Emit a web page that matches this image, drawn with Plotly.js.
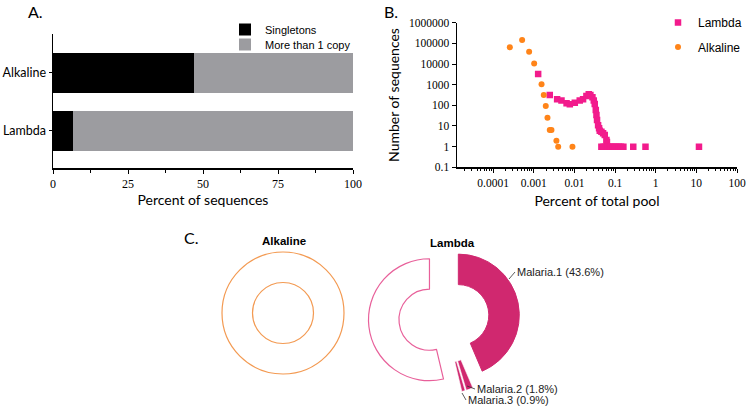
<!DOCTYPE html>
<html><head><meta charset="utf-8">
<script src="https://cdn.plot.ly/plotly-3.0.1.min.js"></script>
<style>body{margin:0;background:#fff;} #chart{width:748px;height:406px;}</style>
</head><body><div id="chart"></div>
<script>
// ---------- Panel A data ----------
const barCategories = ['Lambda', 'Alkaline'];
const singletonsPct = [6.6, 47.1];
const multiCopyPct = [93.4, 52.9];
const barTickVals = [0, 25, 50, 75, 100];

// ---------- Panel B data ----------
const lambdaPctPool = [0.00128, 0.00247, 0.00375, 0.0048, 0.0064, 0.0077, 0.0102, 0.0135, 0.0163, 0.0197,
  0.0225, 0.0247, 0.0277, 0.0299, 0.0316, 0.0335, 0.0348, 0.036, 0.0382, 0.0404,
  0.042, 0.0461, 0.0507, 0.0557, 0.0612, 0.063,
  0.046, 0.052, 0.058, 0.065, 0.072, 0.08, 0.09, 0.1, 0.11, 0.125, 0.14, 0.16, 0.28, 0.56, 11.6];
const lambdaNumSeq = [3300, 316, 195, 170, 126, 112, 134, 170, 195, 283,
  340, 316, 245, 170, 115, 59, 34, 19.5, 11, 7.7,
  5.9, 5.3, 4.4, 3.7, 2.1, 1.7,
  1, 1, 1, 1, 1, 1, 1, 1, 1, 1, 1, 1, 1, 1, 1];
const alkalinePctPool = [0.000257, 0.000516, 0.000767, 0.00102, 0.00155, 0.00176, 0.00197, 0.00217, 0.00247, 0.00272, 0.0036, 0.00398, 0.00893];
const alkalineNumSeq = [64000, 145000, 39500, 10700, 1040, 316, 93, 25, 6.4, 6.4, 1.95, 1, 1];
const xLogTickVals = [0.0001, 0.001, 0.01, 0.1, 1, 10, 100];
const xLogTickText = ['0.0001', '0.001', '0.01', '0.1', '1', '10', '100'];
const yLogTickVals = [0.1, 1, 10, 100, 1000, 10000, 100000, 1000000];
const yLogTickText = ['0.1', '1', '10', '100', '1000', '10000', '100000', '1000000'];

// ---------- Panel C data ----------
const alkalinePieLabels = ['Other'];
const alkalinePieValues = [100];
const lambdaPieLabels = ['Malaria.1', 'Malaria.2', 'Malaria.3', 'Other'];
const lambdaPieValues = [43.6, 1.8, 0.9, 53.7];

// ---------- helpers ----------
const W = 748, H = 406;
const px = v => v / W;
const py = v => 1 - v / H;
const minorLog = [];
for (let e = -5; e <= 1; e++) for (let k = 2; k <= 9; k++) minorLog.push(k * Math.pow(10, e));

const serif = 'Liberation Serif, Times New Roman, serif';
const sans = 'Liberation Sans, Arial, sans-serif';
const lato = 'Lato, Calibri, sans-serif';
const magenta = '#D0286F';

const traces = [
  {type: 'bar', orientation: 'h', name: 'Singletons', y: barCategories, x: singletonsPct,
   marker: {color: '#000000'}, width: 0.68, xaxis: 'x', yaxis: 'y', legend: 'legend', hoverinfo: 'x+y'},
  {type: 'bar', orientation: 'h', name: 'More than 1 copy', y: barCategories, x: multiCopyPct,
   marker: {color: '#9C9CA0'}, width: 0.68, xaxis: 'x', yaxis: 'y', legend: 'legend3', hoverinfo: 'x+y'},
  {type: 'scatter', mode: 'markers', name: 'Lambda', x: lambdaPctPool, y: lambdaNumSeq,
   marker: {symbol: 'square', size: 6.5, color: '#F21B8C'}, xaxis: 'x2', yaxis: 'y2', legend: 'legend2'},
  {type: 'scatter', mode: 'markers', name: 'Alkaline', x: alkalinePctPool, y: alkalineNumSeq,
   marker: {symbol: 'circle', size: 6, color: '#FF8419'}, xaxis: 'x2', yaxis: 'y2', legend: 'legend4'},
  {type: 'pie', labels: alkalinePieLabels, values: alkalinePieValues, hole: 0.5, sort: false,
   direction: 'clockwise', rotation: 0, textinfo: 'none', showlegend: false,
   marker: {colors: ['#FFFFFF'], line: {color: '#F39A52', width: 1.2}},
   domain: {x: [px(222), px(344)], y: [py(374), py(252)]}},
  {type: 'pie', labels: lambdaPieLabels, values: lambdaPieValues, hole: 0.5, sort: false,
   direction: 'clockwise', rotation: 0, textinfo: 'none', showlegend: false,
   pull: [0.24, 0.24, 0.24, 0.24],
   marker: {colors: [magenta, magenta, magenta, '#FFFFFF'],
            line: {color: [magenta, '#FFFFFF', '#FFFFFF', '#E8609A'], width: [1, 0.6, 0.6, 1.2]}},
   domain: {x: [px(444 - 75.6), px(444 + 75.6)], y: [py(318 + 75.6), py(318 - 75.6)]}}
];

const legA = {xanchor: 'left', yanchor: 'top', bgcolor: 'rgba(0,0,0,0)', font: {family: sans, size: 11, color: '#000'}, itemwidth: 30};
const legB = {xanchor: 'left', yanchor: 'top', bgcolor: 'rgba(0,0,0,0)', font: {family: sans, size: 12, color: '#000'}, itemwidth: 30};

const layout = {
  width: W, height: H,
  margin: {l: 0, r: 0, t: 0, b: 0},
  paper_bgcolor: '#FFFFFF', plot_bgcolor: 'rgba(0,0,0,0)',
  barmode: 'stack',
  bargap: 0.3,
  xaxis: {domain: [px(53), px(353)], range: [0, 100], anchor: 'y',
    tickmode: 'array', tickvals: barTickVals, ticks: 'outside', ticklen: 4, tickcolor: '#000',
    minor: {dtick: 12.5, ticks: 'outside', ticklen: 3, tickcolor: '#000'},
    showline: true, linecolor: '#000', linewidth: 1.5, showgrid: false, zeroline: false,
    tickfont: {family: serif, size: 12, color: '#000'},
    title: {text: 'Percent of sequences', font: {family: lato, size: 14, color: '#000'}, standoff: 5}},
  yaxis: {domain: [py(168), py(34)], range: [-0.64, 1.67], anchor: 'x', type: 'category',
    ticks: 'outside', ticklen: 3, tickcolor: '#000',
    showline: true, linecolor: '#000', linewidth: 1.5, showgrid: false, zeroline: false,
    tickfont: {family: lato, size: 12.5, color: '#000'}},
  xaxis2: {domain: [px(457), px(737)], type: 'log', range: [-4.89, 2], anchor: 'y2',
    tickmode: 'array', tickvals: xLogTickVals, ticktext: xLogTickText,
    ticks: 'outside', ticklen: 4, tickcolor: '#000',
    minor: {tickmode: 'array', tickvals: minorLog, ticks: 'outside', ticklen: 2.5, tickcolor: '#000'},
    showline: true, linecolor: '#000', linewidth: 1.5, showgrid: false, zeroline: false,
    tickfont: {family: serif, size: 11.5, color: '#000'},
    title: {text: 'Percent of total pool', font: {family: lato, size: 14, color: '#000'}, standoff: 8}},
  yaxis2: {domain: [py(167.3), py(22.7)], type: 'log', range: [-1, 6], anchor: 'x2',
    tickmode: 'array', tickvals: yLogTickVals, ticktext: yLogTickText,
    ticks: 'outside', ticklen: 4, tickcolor: '#000',
    showline: true, linecolor: '#000', linewidth: 1.5, showgrid: false, zeroline: false,
    tickfont: {family: serif, size: 11.5, color: '#000'},
    title: {text: 'Number of sequences', font: {family: lato, size: 14, color: '#000'}, standoff: 6}},
  legend: Object.assign({x: px(225), y: py(15)}, legA),
  legend3: Object.assign({x: px(225), y: py(30)}, legA),
  legend2: Object.assign({x: px(658), y: py(8)}, legB),
  legend4: Object.assign({x: px(658), y: py(32.5)}, legB),
  annotations: [
    {text: 'A.', x: px(26), y: py(11), xref: 'paper', yref: 'paper', xanchor: 'left', yanchor: 'middle', showarrow: false, font: {family: lato, size: 16, color: '#000'}},
    {text: 'B.', x: px(382), y: py(11), xref: 'paper', yref: 'paper', xanchor: 'left', yanchor: 'middle', showarrow: false, font: {family: lato, size: 16, color: '#000'}},
    {text: 'C.', x: px(182), y: py(238), xref: 'paper', yref: 'paper', xanchor: 'left', yanchor: 'middle', showarrow: false, font: {family: lato, size: 16, color: '#000'}},
    {text: '<b>Alkaline</b>', x: px(284), y: py(241), xref: 'paper', yref: 'paper', xanchor: 'center', yanchor: 'middle', showarrow: false, font: {family: sans, size: 11.5, color: '#000'}},
    {text: '<b>Lambda</b>', x: px(452), y: py(243), xref: 'paper', yref: 'paper', xanchor: 'center', yanchor: 'middle', showarrow: false, font: {family: sans, size: 11.5, color: '#000'}},
    {text: 'Malaria.1 (43.6%)', x: px(509), y: py(279), xref: 'paper', yref: 'paper', ax: 6, ay: -7, xanchor: 'left', yanchor: 'middle',
     showarrow: true, arrowhead: 0, arrowwidth: 0.8, arrowcolor: '#333', font: {family: sans, size: 11, color: '#222'}},
    {text: 'Malaria.2 (1.8%)', x: px(467), y: py(386), xref: 'paper', yref: 'paper', ax: 8, ay: 3, xanchor: 'left', yanchor: 'middle',
     showarrow: true, arrowhead: 0, arrowwidth: 0.8, arrowcolor: '#333', font: {family: sans, size: 11, color: '#222'}},
    {text: 'Malaria.3 (0.9%)', x: px(462), y: py(393), xref: 'paper', yref: 'paper', ax: 4, ay: 7, xanchor: 'left', yanchor: 'middle',
     showarrow: true, arrowhead: 0, arrowwidth: 0.8, arrowcolor: '#333', font: {family: sans, size: 11, color: '#222'}}
  ]
};

Plotly.newPlot('chart', traces, layout, {displayModeBar: false, staticPlot: true});
</script>
</body></html>
